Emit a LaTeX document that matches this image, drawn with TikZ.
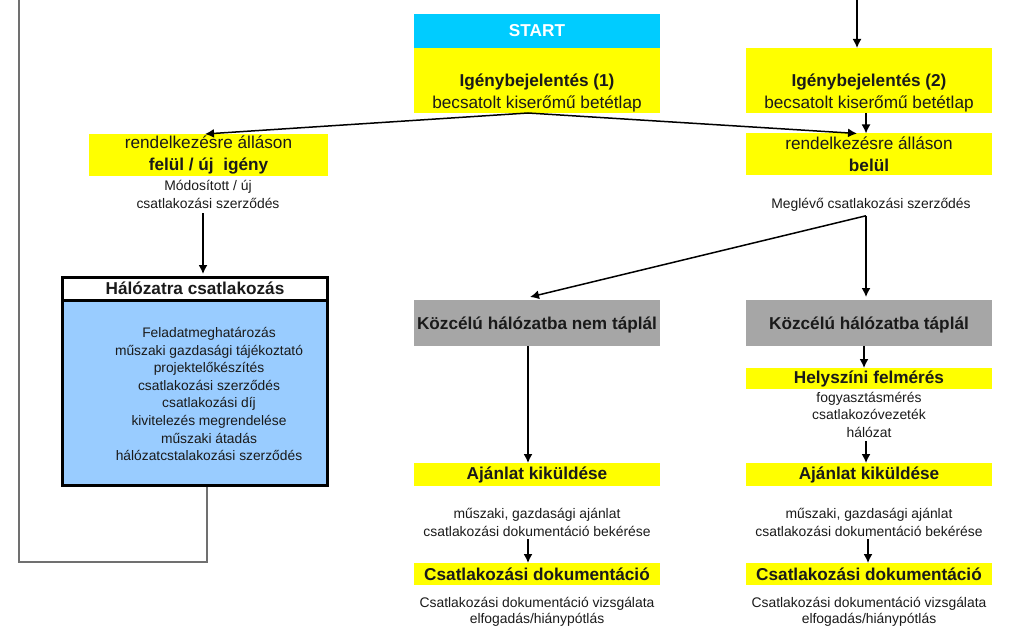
\documentclass[tikz,border=0pt]{standalone}
\usepackage{fontspec}
\setmainfont{Liberation Sans}
\usetikzlibrary{arrows.meta}
\definecolor{yel}{HTML}{FFFF00}
\definecolor{cyn}{HTML}{00CCFF}
\definecolor{lblue}{HTML}{99CCFF}
\definecolor{gbox}{HTML}{A6A6A6}
\definecolor{gline}{HTML}{707070}
\definecolor{ink}{HTML}{1A1A1A}
\begin{document}
\begin{tikzpicture}[x=1pt,y=-1pt,
  box/.style={inner sep=0pt, outer sep=0pt, minimum width=246pt, align=center, text=ink},
  ybox/.style={box, fill=yel},
  gbx/.style={box, fill=gbox, text depth=0pt},
  head/.style={font=\fontsize{17.2}{22}\selectfont\bfseries},
  normtxt/.style={font=\fontsize{17.2}{22}\selectfont},
  captxt/.style={inner sep=0pt, align=center, text=ink, font=\fontsize{13.9}{18}\selectfont},
  arr/.style={line width=1.5pt, -{Latex[length=9pt,width=9pt]}},
  loopline/.style={draw=gline, line width=1.3pt}]
\useasboundingbox (0,0) rectangle (1024,636);

% top centre
\node[box, fill=cyn, minimum height=34pt, text=white, head] (start) at (537,31) {START};
\node[ybox, minimum height=65pt] (ig1) at (537,80.5) {};
\node[inner sep=0pt, align=center, text=ink, normtxt] (ig1t) at (537,93) {\textbf{Igénybejelentés (1)}\\becsatolt kiserőmű betétlap};

% top right
\node[ybox, minimum height=65pt] (ig2) at (869,80.5) {};
\node[inner sep=0pt, align=center, text=ink, normtxt] (ig2t) at (869,93) {\textbf{Igénybejelentés (2)}\\becsatolt kiserőmű betétlap};
\coordinate (topin) at (857,0);

% rendelkezésre boxes
\node[box, fill=yel, minimum width=239pt, minimum height=42pt, normtxt] (rendL) at (208.5,155) {rendelkezésre álláson\\\textbf{felül / új\ \ igény}};
\node[captxt] (felulCap) at (208,194) {Módosított / új\\csatlakozási szerződés};
\node[ybox, minimum height=42pt, normtxt] (rendR) at (869,154.5) {rendelkezésre álláson\\\textbf{belül}};
\node[captxt] (meglevo) at (871,205) {Meglévő csatlakozási szerződés};

% Hálózatra csatlakozás
\node[draw=black, line width=3pt, fill=lblue, inner sep=0pt, minimum width=265pt, minimum height=207pt] (hal) at (195,382) {};
\node[draw=black, line width=3pt, fill=white, inner sep=0pt, minimum width=265pt, minimum height=23pt, text=ink, font=\fontsize{17.2}{18}\selectfont\bfseries] (halT) at (195,288.5) {Hálózatra csatlakozás};
\node[inner sep=0pt, align=center, text=ink, font=\fontsize{13.8}{17.6}\selectfont] (halI) at (209,394) {Feladatmeghatározás\\műszaki gazdasági tájékoztató\\projektelőkészítés\\csatlakozási szerződés\\csatlakozási díj\\kivitelezés megrendelése\\műszaki átadás\\hálózatcstalakozási szerződés};

% grey boxes
\node[gbx, minimum height=46pt, head] (grayL) at (537,323) {Közcélú hálózatba nem táplál};
\node[gbx, minimum height=46pt, head] (grayR) at (869,323) {Közcélú hálózatba táplál};

% right column
\node[ybox, minimum height=21pt, head] (helyR) at (869,378.5) {Helyszíni felmérés};
\node[captxt, font=\fontsize{13.9}{17.5}\selectfont] (helyCap) at (869,414.5) {fogyasztásmérés\\csatlakozóvezeték\\hálózat};

% Ajánlat
\node[ybox, minimum height=23pt, head] (ajL) at (537,474.5) {Ajánlat kiküldése};
\node[ybox, minimum height=23pt, head] (ajR) at (869,474.5) {Ajánlat kiküldése};
\node[captxt] (ajCapL) at (537,522) {műszaki, gazdasági ajánlat\\csatlakozási dokumentáció bekérése};
\node[captxt] (ajCapR) at (869,522) {műszaki, gazdasági ajánlat\\csatlakozási dokumentáció bekérése};

% Csatlakozási dokumentáció
\node[ybox, minimum height=22pt, head] (csL) at (537,574) {Csatlakozási dokumentáció};
\node[ybox, minimum height=22pt, head] (csR) at (869,574) {Csatlakozási dokumentáció};
\node[captxt, font=\fontsize{13.9}{16}\selectfont] (csCapL) at (537,611.5) {Csatlakozási dokumentáció vizsgálata\\elfogadás/hiánypótlás};
\node[captxt, font=\fontsize{13.9}{16}\selectfont] (csCapR) at (869,611.5) {Csatlakozási dokumentáció vizsgálata\\elfogadás/hiánypótlás};

% loop line
\coordinate (lp1) at (207,562);
\coordinate (lp2) at (19,562);
\coordinate (lp3) at (19,0);
\draw[loopline] (hal.south -| lp1) -- (lp1) -- (lp2) -- (lp3);

% arrows (yshift is in page direction: negative = downward)
\draw[arr] (topin) -- (topin |- ig2.north);
\draw[arr] ([xshift=-9pt]ig1.south) -- ([xshift=-3.5pt]rendL.north);
\draw[arr] ([xshift=-9pt]ig1.south) -- ([xshift=-12pt]rendR.north);
\draw[arr] ([xshift=-3pt]ig2.south) -- ([xshift=-3pt]rendR.north);
\draw[arr] ([xshift=-5pt,yshift=-5pt]felulCap.south) -- ([xshift=-5pt,yshift=3pt]felulCap.south |- hal.north);
\draw[arr] ([xshift=-5pt,yshift=-4pt]meglevo.south) -- ([xshift=-7pt,yshift=3pt]grayL.north);
\draw[arr] ([xshift=-5pt,yshift=-4pt]meglevo.south) -- ([xshift=-3pt,yshift=3pt]grayR.north);
\draw[arr] ([xshift=-9pt]grayL.south) -- ([xshift=-9pt]ajL.north);
\draw[arr] ([xshift=-5pt]grayR.south) -- ([xshift=-5pt]helyR.north);
\draw[arr] ([xshift=-3pt,yshift=-4pt]helyCap.south) -- ([xshift=-3pt]ajR.north);
\draw[arr] ([xshift=-9pt,yshift=-3pt]ajCapL.south) -- ([xshift=-9pt]csL.north);
\draw[arr] ([xshift=-1pt,yshift=-3pt]ajCapR.south) -- ([xshift=-1pt]csR.north);
\end{tikzpicture}
\end{document}
